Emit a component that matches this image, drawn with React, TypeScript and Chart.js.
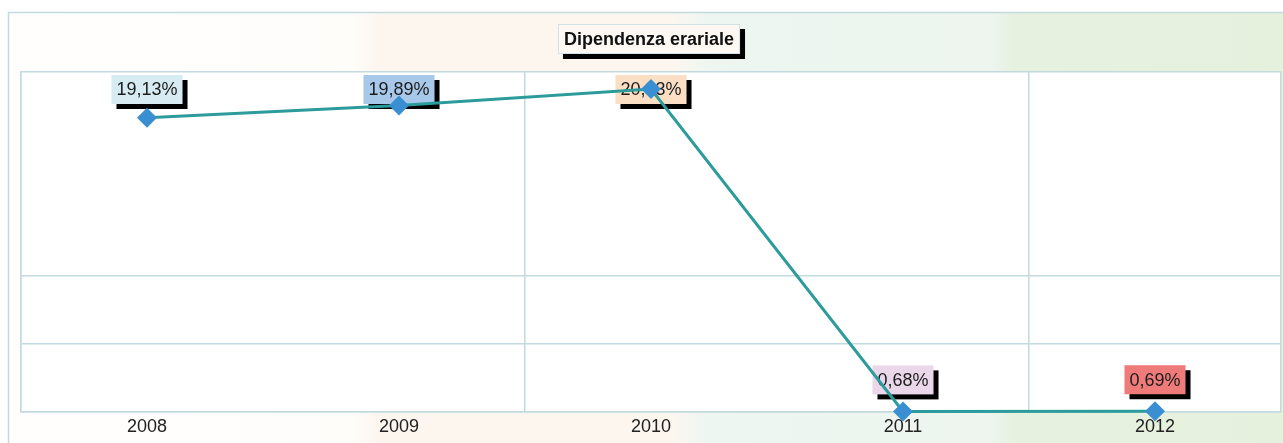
import { useEffect, useRef } from "react";
import { Chart, registerables } from "chart.js";

Chart.register(...registerables);

const chartTitle = "Dipendenza erariale";
const years = ["2008", "2009", "2010", "2011", "2012"];
const values = [19.13, 19.89, 20.93, 0.68, 0.69];
const labelColors = ["#d6ebf2", "#a8c8ea", "#fbdfc4", "#ead7ea", "#ee7a7a"];
const yGridValues = [0.68, 4.9, 9.2, 22];
const hiddenXGridIndexes = [1, 3];

const FONT = '"Liberation Sans", Arial, sans-serif';
const W = 1283;
const H = 443;

const formatValue = (v: number) => v.toFixed(2).replace(".", ",") + "%";

const backgroundPlugin = {
  id: "bandBackground",
  beforeDraw(chart: any) {
    const { ctx, width, height, chartArea } = chart;
    ctx.save();
    ctx.fillStyle = "#ffffff";
    ctx.fillRect(0, 0, width, height);
    const g = ctx.createLinearGradient(8, 0, width, 0);
    g.addColorStop(0, "#fffefd");
    g.addColorStop(0.27, "#fffdfa");
    g.addColorStop(0.29, "#fdf6ef");
    g.addColorStop(0.52, "#fdf6ef");
    g.addColorStop(0.55, "#eef6f1");
    g.addColorStop(0.77, "#edf5ee");
    g.addColorStop(0.79, "#e6f1df");
    g.addColorStop(1, "#e5f0dd");
    ctx.fillStyle = g;
    ctx.fillRect(8, 12, width - 8, height - 12);
    ctx.strokeStyle = "#c3d9e0";
    ctx.lineWidth = 1.5;
    ctx.beginPath();
    ctx.moveTo(8.5, height);
    ctx.lineTo(8.5, 12.5);
    ctx.lineTo(width, 12.5);
    ctx.stroke();
    ctx.fillStyle = "#ffffff";
    ctx.fillRect(
      chartArea.left,
      chartArea.top,
      chartArea.right - chartArea.left,
      chartArea.bottom - chartArea.top
    );
    ctx.restore();
  },
};

const valueLabelPlugin = {
  id: "valueLabels",
  beforeDatasetsDraw(chart: any) {
    const meta = chart.getDatasetMeta(0);
    const ctx = chart.ctx;
    ctx.save();
    ctx.font = "18px " + FONT;
    meta.data.forEach((pt: any, i: number) => {
      const text = formatValue(values[i]);
      const tw = ctx.measureText(text).width;
      const w = tw + 10;
      const h = 29;
      let top = pt.y - 17 - h;
      if (top < chart.chartArea.top + 3) top = chart.chartArea.top + 3;
      const left = pt.x - w / 2;
      ctx.fillStyle = "#000000";
      ctx.fillRect(left + 5, top + 5, w, h);
      ctx.fillStyle = labelColors[i];
      ctx.fillRect(left, top, w, h);
      ctx.fillStyle = "#1c1c1c";
      ctx.textAlign = "center";
      ctx.textBaseline = "middle";
      ctx.fillText(text, pt.x, top + h / 2 + 1);
    });
    ctx.restore();
  },
};

const titlePlugin = {
  id: "boxedTitle",
  afterDraw(chart: any) {
    const { ctx, chartArea } = chart;
    ctx.save();
    ctx.font = "bold 18px " + FONT;
    const tw = ctx.measureText(chartTitle).width;
    const w = tw + 12;
    const h = 30;
    const cx = (chartArea.left + chartArea.right) / 2 - 2;
    const left = cx - w / 2;
    const top = 24;
    ctx.fillStyle = "#000000";
    ctx.fillRect(left + 5, top + 5, w, h);
    ctx.fillStyle = "#fdf8f2";
    ctx.fillRect(left, top, w, h);
    ctx.strokeStyle = "#d3e2e8";
    ctx.lineWidth = 1;
    ctx.strokeRect(left + 0.5, top + 0.5, w - 1, h - 1);
    ctx.fillStyle = "#111111";
    ctx.textAlign = "center";
    ctx.textBaseline = "middle";
    ctx.fillText(chartTitle, cx, top + h / 2 + 1);
    ctx.restore();
  },
};

export default function App() {
  const canvasRef = useRef<HTMLCanvasElement | null>(null);

  useEffect(() => {
    if (!canvasRef.current) return;
    const chart = new Chart(canvasRef.current, {
      type: "line",
      data: {
        labels: years,
        datasets: [
          {
            data: values,
            borderColor: "#2b9b9c",
            borderWidth: 3,
            tension: 0,
            pointStyle: "rectRot",
            pointRadius: 10,
            pointHoverRadius: 10,
            pointBackgroundColor: "#3a8fd3",
            pointBorderColor: "#3a8fd3",
            pointBorderWidth: 0,
            clip: false as any,
          },
        ],
      },
      options: {
        animation: false,
        responsive: false,
        devicePixelRatio: 1,
        layout: {
          autoPadding: false,
          padding: { left: 21, right: 2, top: 72, bottom: 0 },
        },
        plugins: {
          legend: { display: false },
          tooltip: { enabled: false },
          title: { display: false },
        },
        scales: {
          x: {
            offset: true,
            grid: {
              offset: true,
              drawTicks: false,
              lineWidth: 1.5,
              color: (c: any) =>
                hiddenXGridIndexes.includes(c.index) ? "rgba(0,0,0,0)" : "#c3d9e0",
            },
            border: { display: true, color: "#c3d9e0", width: 1.5 },
            ticks: {
              padding: 5,
              color: "#222222",
              font: { family: FONT, size: 18 },
            },
          },
          y: {
            min: 0.68,
            max: 22,
            afterBuildTicks: (scale: any) => {
              scale.ticks = yGridValues.map((v) => ({ value: v }));
            },
            grid: { drawTicks: false, lineWidth: 1.5, color: "#c3d9e0" },
            border: { display: true, color: "#c3d9e0", width: 1.5 },
            ticks: { display: false },
          },
        },
      },
      plugins: [backgroundPlugin, valueLabelPlugin, titlePlugin],
    });
    return () => chart.destroy();
  }, []);

  return (
    <div style={{ position: "fixed", left: 0, top: 0, width: W, height: H }}>
      <canvas ref={canvasRef} width={W} height={H} style={{ display: "block" }} />
    </div>
  );
}
